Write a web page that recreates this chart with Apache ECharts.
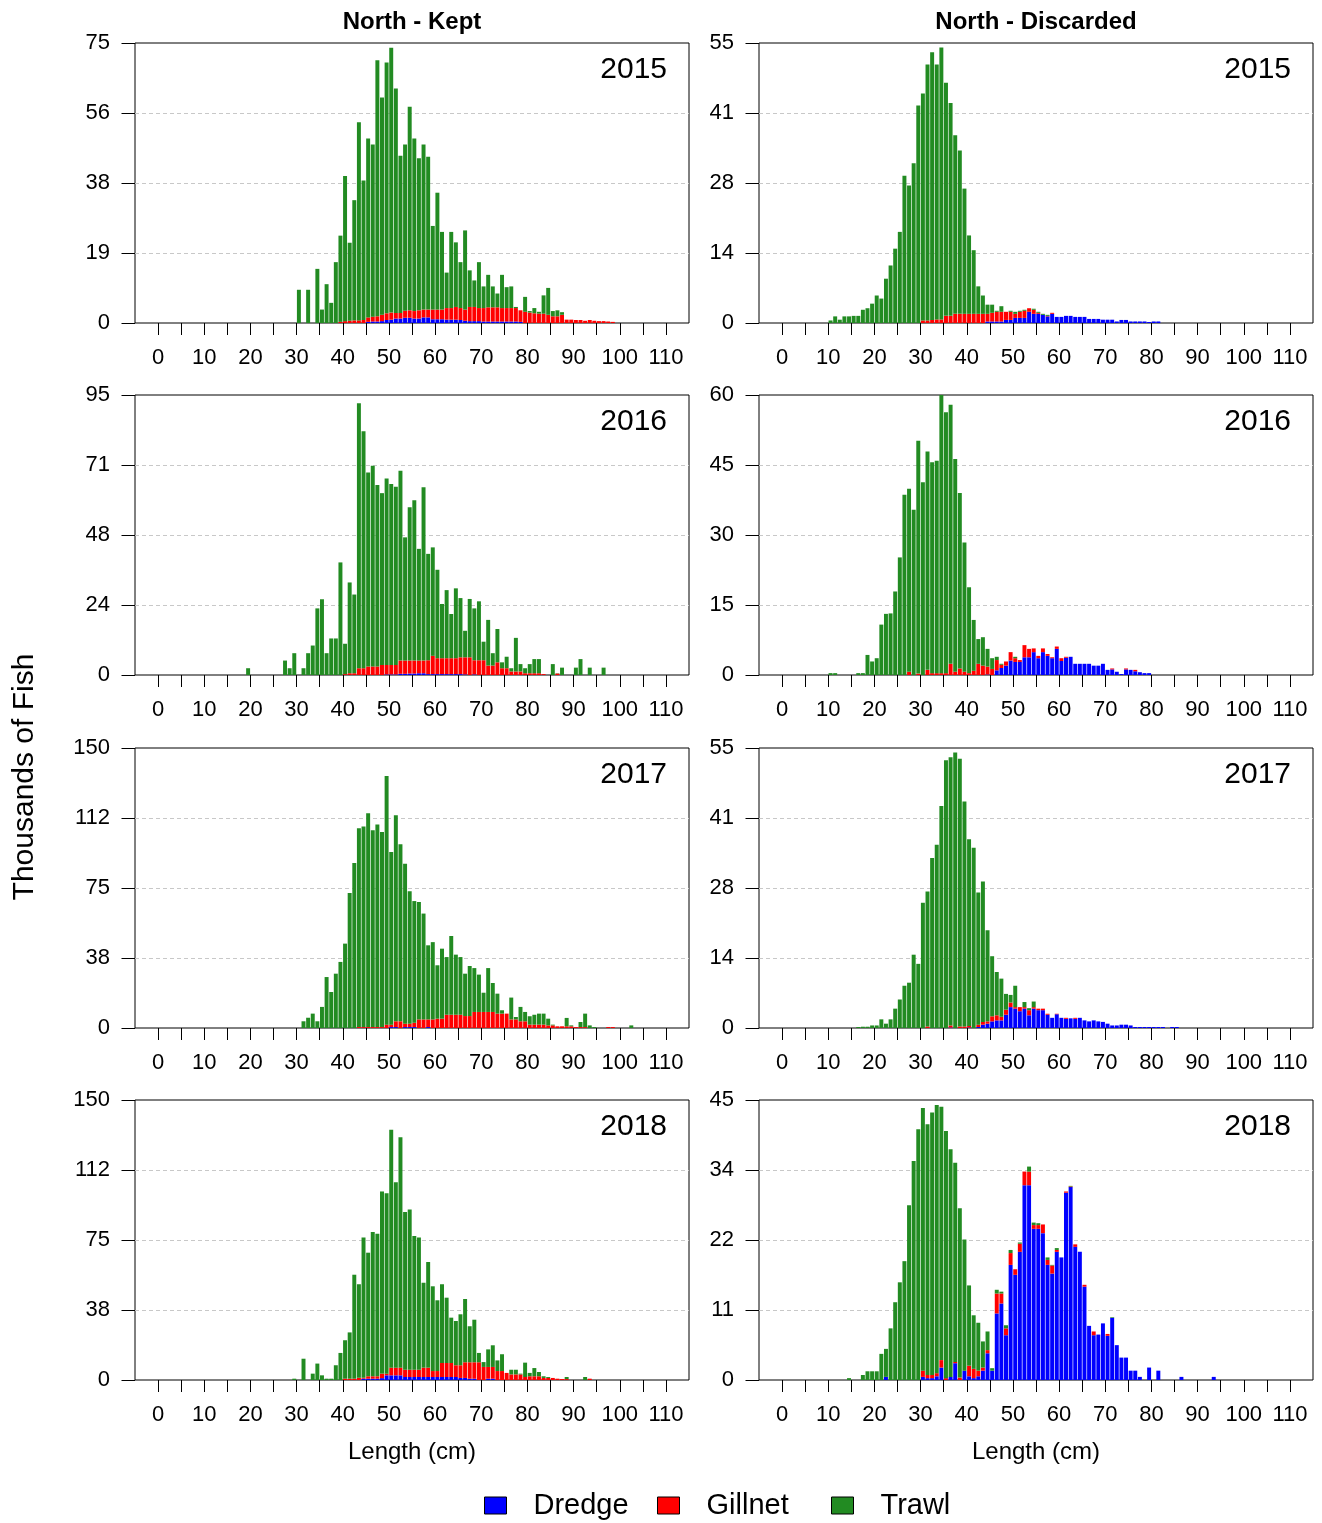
<!DOCTYPE html>
<html>
<head>
<meta charset="utf-8">
<script src="https://cdn.jsdelivr.net/npm/echarts@6/dist/echarts.min.js"></script>
<style>
html,body{margin:0;padding:0;background:#ffffff;}
#chart{width:1322px;height:1523px;}
</style>
</head>
<body>
<div id="chart"></div>
<script>
// ---------- labels ----------
const gears = ['Dredge', 'Gillnet', 'Trawl'];
const gearColors = ['#0000FF', '#FF0000', '#228B22'];
const columnTitles = ['North - Kept', 'North - Discarded'];
const years = ['2015', '2016', '2017', '2018'];
const xTickValues = [0,5,10,15,20,25,30,35,40,45,50,55,60,65,70,75,80,85,90,95,100,105,110];
const xLabelValues = [0,10,20,30,40,50,60,70,80,90,100,110];
const xTitle = 'Length (cm)';
const yTitle = 'Thousands of Fish';

// ---------- y axis maxima and tick labels (panel order: row by row, Kept then Discarded) ----------
const yMaxes = [75, 55, 95, 60, 150, 55, 150, 45];
const yLabelsKept2015 = ['0','19','38','56','75'];
const yLabelsDisc2015 = ['0','14','28','41','55'];
const yLabelsKept2016 = ['0','24','48','71','95'];
const yLabelsDisc2016 = ['0','15','30','45','60'];
const yLabelsKept2017 = ['0','38','75','112','150'];
const yLabelsDisc2017 = ['0','14','28','41','55'];
const yLabelsKept2018 = ['0','38','75','112','150'];
const yLabelsDisc2018 = ['0','11','22','34','45'];

// ---------- data: thousands of fish per 1-cm length class, first class = *Start ----------
const kept2015Start = 30;
const kept2015Trawl = [8.9,0,8.9,0,14.5,3.6,10.4,5.4,16.3,23.1, 38.9,20.9,32.2,53.1,37.4,47.9,46.1,68.6,58.2,67.2, 70.9,60.1,42.1,44.5,54.5,46.2,40.7,44.2,40.9,22.4, 31.3,20.8,9.5,20.4,17.3,12.3,21.2,9.8,7.1,12.3, 5.8,8.7,5.6,3.7,8.9,5.6,5.8,0.3,0,4.0, 0.4,1.4,0.5,4.9,7.2,1.4,1.6,0.7];
const kept2015Gillnet = [0,0,0,0,0,0,0,0,0,0.3, 0.5,0.6,0.7,0.7,0.8,1.2,1.3,1.4,1.7,1.8, 1.9,1.5,1.5,1.9,2.0,2.0,2.2,2.1,2.1,2.6, 2.6,2.6,3.1,3.1,3.4,3.2,3.0,3.8,3.8,3.5, 3.6,3.8,3.8,3.8,3.6,3.6,3.6,3.6,3.1,3.0, 2.8,2.6,2.5,2.5,2.2,1.8,1.8,2.2,0.9,0.9, 0.8,0.8,0.6,0.8,0.6,0.5,0.5,0.4,0.3];
const kept2015Dredge = [0,0,0,0,0,0,0,0,0,0, 0,0,0,0,0,0.3,0.4,0.4,0.5,0.8, 0.9,1.2,1.2,1.4,1.4,1.2,1.2,1.5,1.5,1.0, 1.0,1.0,0.9,0.9,0.9,0.8,0.6,0.5,0.5,0.5, 0.4,0.4,0.4,0.4,0.4,0.4,0.4,0.4,0.3];

const disc2015Start = 10;
const disc2015Trawl = [0.5,1.3,0.65,1.3,1.3,1.4,1.4,2.6,2.9,3.8, 5.4,4.8,8.7,11.3,14.6,17.9,28.9,27.0,31.4,42.7, 44.6,50.3,52.6,50.1,53.4,45.8,41.8,35.1,32.1,24.6, 15.4,12.5,5.4,3.6,1.8,1.6,0.2,1.1,0,0.2, 0.4,0.2,0.2,0,0.2,0.2,0.2,0.2];
const disc2015Gillnet = [0,0,0,0,0,0,0,0,0,0, 0,0,0,0,0,0,0,0,0,0, 0.5,0.5,0.6,0.7,0.7,1.4,1.4,1.8,1.8,1.8, 1.8,1.8,1.8,1.8,1.5,1.7,1.9,1.9,1.6,1.6, 0.8,1.2,1.4,0.7,0.8,0.2,0,0.1,0.2];
const disc2015Dredge = [0,0,0,0,0,0,0,0,0,0, 0,0,0,0,0,0,0,0,0,0, 0,0,0,0,0,0,0,0,0,0, 0,0,0,0,0.3,0.3,0.3,0.3,0.6,0.6, 1.0,1.0,1.0,2.2,1.8,1.8,1.6,1.3,1.8,1.2, 1.2,1.4,1.4,1.2,1.2,1.2,0.8,0.8,0.8,0.65, 0.65,0.65,0.3,0.6,0.6,0.3,0.3,0.3,0.3,0.2, 0.3,0.3];

const kept2016Start = 19;
const kept2016Trawl = [2.3, 0,0,0,0,0,0,0,4.9,2.3,7.4, 0,2.3,7.4,10,22.6,25.7,7.4,12.4,12.4,38.2, 10.3,30.8,26.7,89.9,80.4,65.8,68.1,61.6,58.3,63.3, 61.4,60.5,64.4,41.8,52.0,54.4,37.9,58.8,36.1,36.8, 30.0,18.4,23.1,15.0,23.7,20.1,9.0,19.8,17.6,20.0, 6.3,15.5,4.2,11.3,2.0,3.9,1.1,11.4,2.5,1.7, 3.1,4.8,4.8,0,0,3.7,0.1,2.5,0,0, 2.5,5.4,0,2.5,0,0,2.5];
const kept2016Gillnet = [0, 0,0,0,0,0,0,0,0,0,0, 0,0,0,0,0,0,0,0,0,0, 0.3,0.6,0.6,2.3,2.3,2.9,2.9,2.9,3.4,3.2, 3.2,3.2,4.5,4.5,4.4,4.4,4.3,4.3,4.7,6.2, 5.4,5.4,5.4,5.4,5.4,5.7,5.8,6.0,4.8,5.0, 5.0,3.2,3.2,4.3,2.3,2.3,1.2,1.2,1.2,0.6, 0.6,0.6,0.6,0.3,0,0,0.5];
const kept2016Dredge = [0, 0,0,0,0,0,0,0,0,0,0, 0,0,0,0,0,0,0,0,0,0, 0,0,0,0,0,0,0,0,0,0.2, 0.2,0.2,0.4,0.4,0.5,0.5,0.6,0.6,0.3,0.3, 0.3,0.3,0.3,0.3,0.3,0.3,0.2,0,0.2];

const disc2016Start = 10;
const disc2016Trawl = [0.4,0.4,0,0,0,0,0.4,0.4,4.3,2.9, 3.6,10.8,13.1,13.2,17.9,25.2,38.6,39.2,35.4,49.9, 41.3,46.8,45.2,45.5,59.6,55.9,55.5,45.6,37.6,27.7, 18.4,10.9,5.3,6.1,3.8,2.3,0.7,0.2,0,0, 0.3];
const disc2016Gillnet = [0,0,0,0,0,0,0,0,0,0, 0,0,0,0,0,0,0,0.7,0,0.3, 0,1.1,0.4,0.4,0.4,0.4,2.4,0.7,1.4,0.7, 0.4,0.9,2.4,2.0,1.7,1.3,2.2,0.7,0.9,1.8, 0.8,0.4,2.6,1.8,0.8,0.5,0.8,0.4,0.2,0.5, 0.6,0.2,0,0,0,0,0,0,0,0, 0,0.2,0,0,0.2,0,0.3];
const disc2016Dredge = [0,0,0,0,0,0,0,0,0,0, 0,0,0,0,0,0,0,0,0,0, 0,0,0,0,0,0,0,0,0,0, 0,0,0,0,0.1,0,1.0,1.5,2.0,3.1, 2.8,2.8,3.8,3.8,4.9,3.6,4.9,4.1,3.6,5.6, 3.0,3.7,3.9,2.4,2.4,2.4,2.4,2.0,2.0,2.4, 1.1,1.2,0.7,0.2,1.2,1.1,0.8,0.6,0.4,0.4];

const kept2017Start = 31;
const kept2017Trawl = [3.6,5.5,7.7,3.6,11.3,27.3,19.3,29.1,35.4, 45.2,72.3,88.4,106.5,107.5,114.5,105.5,108.5,104.5,133.2, 92.5,110.4,94.8,85.7,70.9,65.2,62.9,56.7,39.7,41.4, 28.6,37.5,30.9,42.2,32.2,30.9,22.7,26.8,23.5,20.0, 10.3,23.5,15.5,10.7,1.8,0,11.7,1.3,7.7,5.0, 4.5,5.3,5.9,5.9,3.6,0.4,0,0,4.5,0.5, 0,2.7,7.2,1.4,0.5,0,0,0,0,0, 0,0,1.4];
const kept2017Gillnet = [0,0,0,0,0,0,0,0,0, 0,0,0,0.5,0.5,0.5,0.5,0.5,0.5,1.8, 1.3,3.1,3.6,1.8,1.8,2.3,4.6,4.6,4.1,4.6, 5.0,5.0,7.1,7.1,7.1,7.1,6.4,6.4,8.6,8.6, 8.6,8.6,8.6,7.7,7.7,7.7,4.6,4.6,3.6,3.6, 1.8,1.8,1.8,1.8,1.4,1.4,0.9,0.9,0.9,0.9, 0.5,0.5,0.5,0,0,0,0,0.5,0.5];
const kept2017Dredge = [0,0,0,0,0,0,0,0,0, 0,0,0,0,0,0,0,0,0,0, 0.5,0.5,0,0.5,0.5,0.5,0,0,0.5];

const disc2017Start = 16;
const disc2017Trawl = [0.2,0.25,0.25,0.5, 0.5,1.7,0.85,1.7,3.8,5.6,8.3,8.9,14.4,12.6, 24.6,26.5,33.4,36,43.6,52.6,52.7,54.1,52.6,44.2, 36.7,35.4,25.95,27.6,17.9,11.8,8.5,7.5,3.1,1.5, 4.2,0,1.0,0.4,1.1];
const disc2017Gillnet = [0,0,0,0, 0,0,0,0,0,0,0,0,0,0, 0,0.3,0,0,0,0,0.4,0,0.3,0.3, 0.3,0,0.45,0.55,0.45,1.0,1.0,0.7,1.0,0.9, 0.3,0.8,0.3,1.0,0.3,0.3,0.3,0.2,0,0.1, 0,0.2,0,0.2];
const disc2017Dredge = [0,0,0,0, 0,0,0,0,0,0,0,0,0,0, 0,0,0,0,0,0,0.1,0,0,0, 0.1,0,0.2,0.65,0.85,1.3,1.5,1.5,2.6,4.1, 3.8,3.3,3.8,2.5,3.8,3.5,3.5,2.6,2.0,2.7, 2.0,1.8,1.9,1.8,2.0,1.5,1.3,1.5,1.3,1.2, 0.85,0.5,0.5,0.65,0.65,0.5,0.2,0.2,0.2,0.2, 0.2,0.2,0.2,0,0.2,0.2];

const kept2018Start = 29;
const kept2018Trawl = [0.7, 0,11.4,0,3.4,8.8,2.5,0.7,0.7,7.9,14.5, 20.6,24.8,55.7,50.1,75.1,66.2,77.3,76.4,97.6,96.6, 127.4,99.4,123.4,84.5,85.8,71.6,70.8,45.5,56.6,45.4, 37.9,42.2,35.0,24.3,23.7,27.3,33.9,19.3,22.8,5.0, 2.6,9.4,11.6,5.7,9.0,0,2.5,2.5,0.4,7.7, 1.8,4.4,2.3,0.9,0.5,0,0,0,1.1,0, 0,0,1.6];
const kept2018Gillnet = [0, 0,0,0,0,0,0,0,0,0,0, 0.7,0.7,0.7,1.2,0.5,1.3,1.3,1.3,2.4,0.9, 4.1,4.1,4.1,3.9,3.9,3.9,3.9,5.0,5.0,3.2, 3.2,7.5,7.5,7.5,6.3,6.8,8.4,8.8,8.8,9.5, 7.0,6.3,6.3,4.8,4.8,3.8,3.0,3.0,3.0,1.6, 2.0,2.0,2.0,1.1,1.1,1.1,0.7,0.5,0.5,0, 0,0,0,0.7];
const kept2018Dredge = [0, 0,0,0,0,0,0,0,0,0,0, 0,0,0,0,0.7,0.7,0.7,0.7,1.0,2.5, 2.5,2.5,2.5,1.6,1.6,1.6,1.6,1.6,1.6,1.6, 1.6,1.6,1.6,1.6,1.6,1.1,1.1,0.7,0.7,0, 0,0.7,0.7];

const disc2018Start = 14;
const disc2018Trawl = [0.3,0,0,0.8,1.4,1.4, 1.4,4.2,4.5,8.3,12.5,15.7,19.1,28.1,35.2,40.3, 42.2,40.3,42.2,43.1,40.7,39.7,36.6,32.0,27.2,21.1, 12.9,8.6,7.7,4.2,3.0,0.4,0.6,0.3,0.5,0.5, 0,0.2,0,0.8,0.4,0.3,0,0.4,0.1,0.3, 0,0,0.1,0,0,0,0,0,0,0, 0,0.1];
const disc2018Gillnet = [0,0,0,0,0,0, 0,0,0,0,0,0,0,0,0,0, 1.0,0.5,0.5,0.5,1.2,0.3,0,0.2,0.4,0, 1.7,1.5,0.9,0.5,0.5,0,3.2,1.6,1.1,1.9, 0.9,1.3,2.2,2.2,0.6,0.6,1.4,0.8,1.3,0.3, 0,0.2,0.1,0.4,0,0.3,0,0.6,0,0, 0.3];
const disc2018Dredge = [0,0,0,0,0,0, 0,0,0.5,0,0,0,0,0,0,0, 0.5,0.3,0.3,0.6,2.0,0,0.5,2.7,0,1.5, 0.6,0.3,0.6,1.5,4.3,1.5,10.7,12.3,7.2,18.5, 16.9,20.6,31.3,31.3,24.3,24.3,23.6,18.5,17.1,20.6, 19.7,30.1,31.0,21.4,20.6,15.0,8.7,7.2,7.3,9.1, 7.1,10.0,5.6,3.6,3.6,1.5,1.5,0.5,0,2.0, 0,1.5,0,0,0,0,0.5,0,0,0, 0,0,0,0.5];

// ---------- panel wiring ----------
const panels = [
  {start: kept2015Start, series: [kept2015Dredge, kept2015Gillnet, kept2015Trawl], yLabels: yLabelsKept2015},
  {start: disc2015Start, series: [disc2015Dredge, disc2015Gillnet, disc2015Trawl], yLabels: yLabelsDisc2015},
  {start: kept2016Start, series: [kept2016Dredge, kept2016Gillnet, kept2016Trawl], yLabels: yLabelsKept2016},
  {start: disc2016Start, series: [disc2016Dredge, disc2016Gillnet, disc2016Trawl], yLabels: yLabelsDisc2016},
  {start: kept2017Start, series: [kept2017Dredge, kept2017Gillnet, kept2017Trawl], yLabels: yLabelsKept2017},
  {start: disc2017Start, series: [disc2017Dredge, disc2017Gillnet, disc2017Trawl], yLabels: yLabelsDisc2017},
  {start: kept2018Start, series: [kept2018Dredge, kept2018Gillnet, kept2018Trawl], yLabels: yLabelsKept2018},
  {start: disc2018Start, series: [disc2018Dredge, disc2018Gillnet, disc2018Trawl], yLabels: yLabelsDisc2018}
];

// length classes (1 cm bins) spanning the plotted range -5 .. 115 cm
const X_MIN = -5, X_MAX = 115;
const lengthClasses = [];
for (let L = X_MIN; L < X_MAX; L++) lengthClasses.push(String(L));

// ---------- layout ----------
const FONT = '"Liberation Sans", Arial, Helvetica, sans-serif';
const gridLefts = [135, 759];
const gridTops = [43, 395, 748, 1100];
const GRID_W = 554, GRID_H = 280;

const grid = [], xAxis = [], yAxis = [], series = [];
panels.forEach(function (p, i) {
  const row = Math.floor(i / 2), col = i % 2;
  const yMax = yMaxes[i];
  grid.push({left: gridLefts[col], top: gridTops[row], width: GRID_W, height: GRID_H,
    show: true, borderColor: '#000', borderWidth: 1, backgroundColor: 'transparent', containLabel: false});
  // visible value axis for ticks / labels
  const xv = {
    gridIndex: i, type: 'value', position: 'bottom', min: X_MIN, max: X_MAX,
    axisLine: {show: false, onZero: false},
    splitLine: {show: false},
    axisTick: {show: true, customValues: xTickValues, length: 12, lineStyle: {color: '#000', width: 1}},
    axisLabel: {show: true, customValues: xLabelValues, fontSize: 22, color: '#000', fontFamily: FONT, margin: 24}
  };
  if (row === 3) {
    xv.name = xTitle; xv.nameLocation = 'middle'; xv.nameGap = 60;
    xv.nameTextStyle = {fontSize: 24, color: '#000', fontFamily: FONT};
  }
  xAxis.push(xv);
  // hidden category axis carrying the length classes for the bars
  xAxis.push({
    gridIndex: i, type: 'category', position: 'top', data: lengthClasses, boundaryGap: true,
    axisLine: {show: false, onZero: false}, axisTick: {show: false}, axisLabel: {show: false}, splitLine: {show: false}
  });
  yAxis.push({
    gridIndex: i, type: 'value', position: 'left', min: 0, max: yMax, interval: yMax / 4,
    axisLine: {show: false, onZero: false},
    axisTick: {show: true, length: 13.5, lineStyle: {color: '#000', width: 1}},
    axisLabel: {fontSize: 22, color: '#000', fontFamily: FONT, margin: 25,
      formatter: function (v) { return p.yLabels[Math.round(v / (yMax / 4))]; }},
    splitLine: {show: true, showMinLine: false, showMaxLine: false,
      lineStyle: {type: [4, 3], color: '#c8c8c8', width: 1}}
  });
  gears.forEach(function (g, gi) {
    const arr = p.series[gi];
    const data = lengthClasses.map(function () { return null; });
    arr.forEach(function (v, k) {
      if (v > 0) data[p.start + k - X_MIN] = v;
    });
    series.push({
      type: 'bar', name: g, xAxisIndex: 2 * i + 1, yAxisIndex: i, stack: 'panel' + i,
      data: data, barWidth: '86%', itemStyle: {color: gearColors[gi]}, silent: true
    });
  });
});

// ---------- texts ----------
const graphic = [];
columnTitles.forEach(function (t, c) {
  graphic.push({type: 'text', x: gridLefts[c] + GRID_W / 2, y: 22,
    style: {text: t, font: 'bold 24px ' + FONT, fill: '#000', align: 'center', verticalAlign: 'middle'}});
});
years.forEach(function (y, r) {
  [0, 1].forEach(function (c) {
    graphic.push({type: 'text', x: gridLefts[c] + GRID_W - 22, y: gridTops[r] + 27,
      style: {text: y, font: '30px ' + FONT, fill: '#000', align: 'right', verticalAlign: 'middle'}});
  });
});
graphic.push({type: 'text', x: 25, y: 777, rotation: Math.PI / 2,
  style: {text: yTitle, font: '30px ' + FONT, fill: '#000', align: 'center', verticalAlign: 'middle'}});

// ---------- legend ----------
const legendLefts = [484, 657, 831];
const legend = gears.map(function (g, gi) {
  return {data: [g], left: legendLefts[gi], top: 1491, orient: 'horizontal', selectedMode: false,
    padding: 0, itemWidth: 22, itemHeight: 17, icon: 'rect',
    itemStyle: {borderColor: '#000', borderWidth: 1},
    textStyle: {fontSize: 29, color: '#000', fontFamily: FONT, padding: [0, 0, 0, 22]}};
});

const chart = echarts.init(document.getElementById('chart'), null, {renderer: 'canvas'});
chart.setOption({
  animation: false,
  backgroundColor: '#ffffff',
  textStyle: {fontFamily: FONT},
  grid: grid, xAxis: xAxis, yAxis: yAxis, series: series,
  legend: legend, graphic: graphic
});
</script>
</body>
</html>
